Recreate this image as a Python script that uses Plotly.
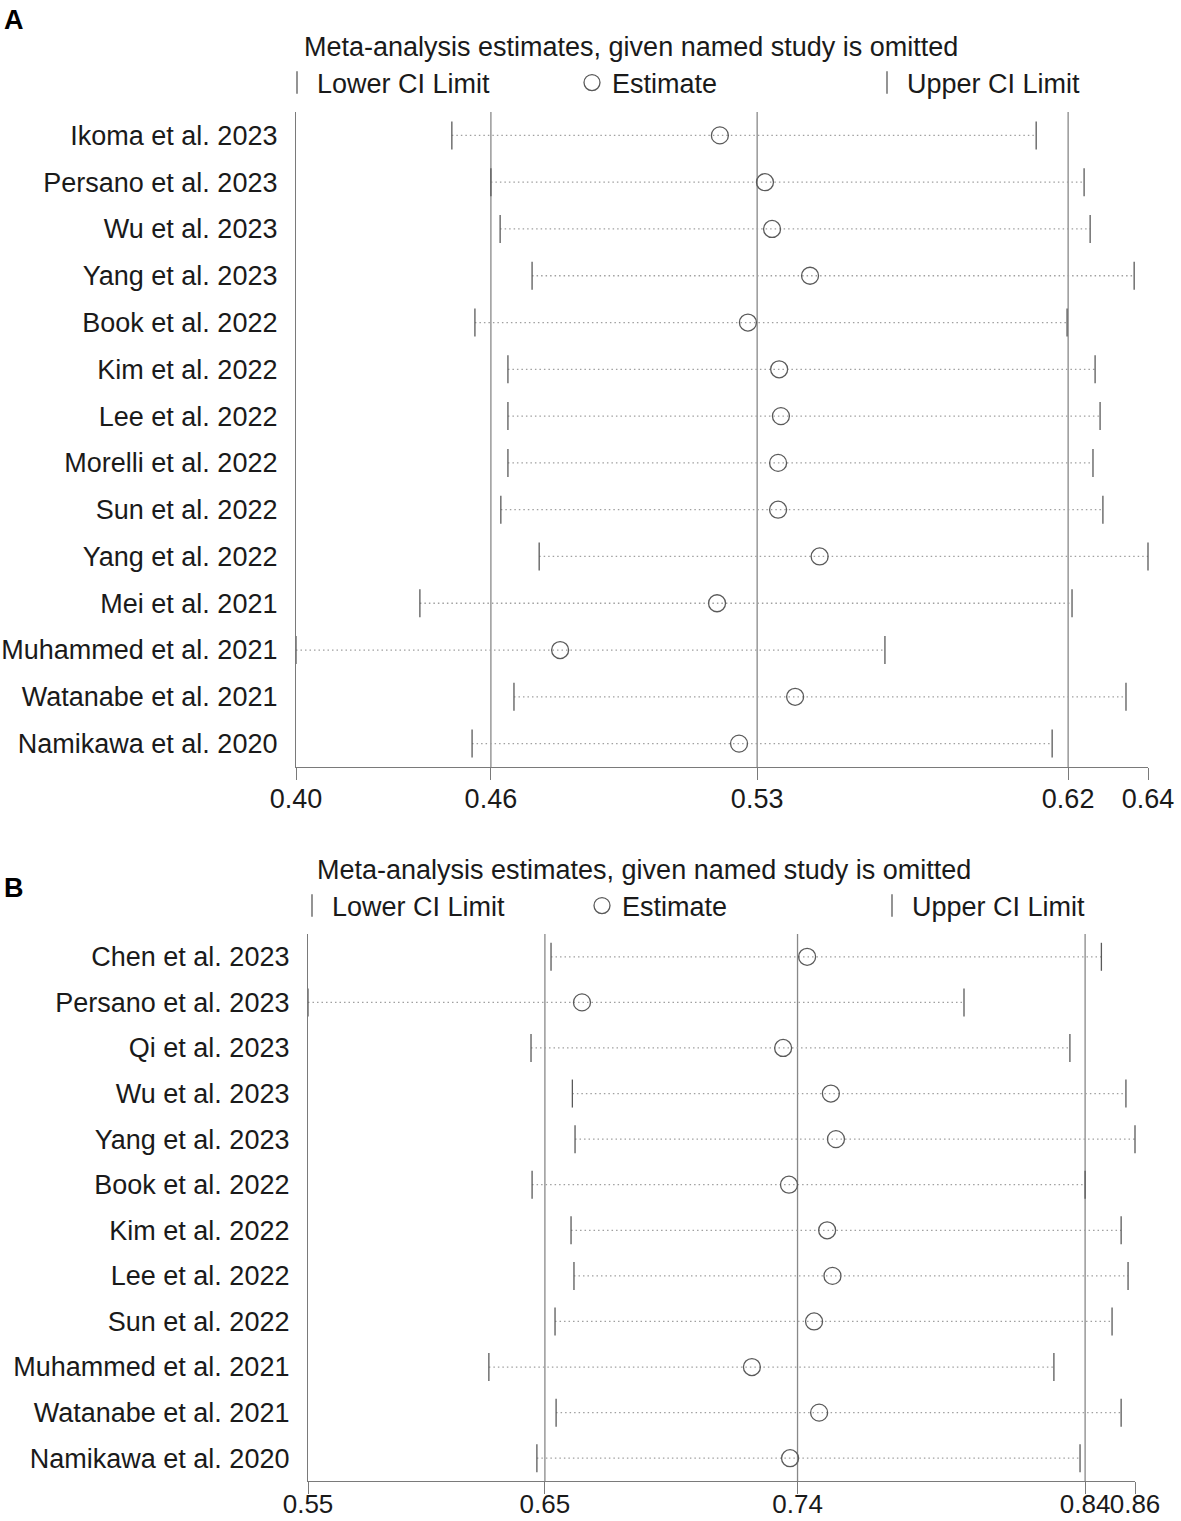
"""Leave-one-out sensitivity analysis (metaninf style) - two panels."""

import plotly.graph_objects as go

# ---- Panel A ----
studies_a = [
    "Ikoma et al. 2023", "Persano et al. 2023", "Wu et al. 2023", "Yang et al. 2023",
    "Book et al. 2022", "Kim et al. 2022", "Lee et al. 2022", "Morelli et al. 2022",
    "Sun et al. 2022", "Yang et al. 2022", "Mei et al. 2021", "Muhammed et al. 2021",
    "Watanabe et al. 2021", "Namikawa et al. 2020",
]
lower_a = [0.4439, 0.4549, 0.4575, 0.4665, 0.4504, 0.4597, 0.4597, 0.4597,
           0.4577, 0.4685, 0.4349, 0.4000, 0.4614, 0.4496]
estimate_a = [0.5194, 0.5321, 0.5341, 0.5448, 0.5273, 0.5361, 0.5366, 0.5358,
              0.5358, 0.5475, 0.5186, 0.4744, 0.5406, 0.5248]
upper_a = [0.6085, 0.6220, 0.6237, 0.6361, 0.6172, 0.6251, 0.6265, 0.6245,
           0.6273, 0.6400, 0.6186, 0.5659, 0.6338, 0.6130]
# pooled estimate with all studies: lower CI, estimate, upper CI
overall_a = [0.4549, 0.5299, 0.6175]
ticktext_a = ["0.40", "0.46", "0.53", "0.62", "0.64"]

# ---- Panel B ----
studies_b = [
    "Chen et al. 2023", "Persano et al. 2023", "Qi et al. 2023", "Wu et al. 2023",
    "Yang et al. 2023", "Book et al. 2022", "Kim et al. 2022", "Lee et al. 2022",
    "Sun et al. 2022", "Muhammed et al. 2021", "Watanabe et al. 2021",
    "Namikawa et al. 2020",
]
lower_b = [0.6411, 0.5500, 0.6336, 0.6491, 0.6501, 0.6340, 0.6486, 0.6497,
           0.6426, 0.6178, 0.6430, 0.6358]
estimate_b = [0.7371, 0.6527, 0.7281, 0.7460, 0.7479, 0.7303, 0.7446, 0.7466,
              0.7397, 0.7164, 0.7416, 0.7307]
upper_b = [0.8474, 0.7959, 0.8356, 0.8566, 0.8600, 0.8413, 0.8548, 0.8574,
           0.8514, 0.8296, 0.8548, 0.8394]
overall_b = [0.6388, 0.7335, 0.8413]
ticktext_b = ["0.55", "0.65", "0.74", "0.84", "0.86"]

TITLE = "Meta-analysis estimates, given named study is omitted"
FONT = "Liberation Sans, Arial, sans-serif"
W, H = 1181, 1521
FS = 27
GRAY = "#5a5a5a"
AXIS = "#7a7a7a"
TEXT = "#1a1a1a"


def px(v, total):
    return v / total


fig = go.Figure()


def add_panel(names, lower, est, upper, overall, ticktext, ax, legend, xdom, ydom, standoff, xfs):
    rows = list(range(1, len(names) + 1))
    xs, ys = [], []
    for lo, hi, r in zip(lower, upper, rows):
        xs += [lo, hi, None]
        ys += [r, r, None]
    common = dict(xaxis='x' + ax, yaxis='y' + ax, legend=legend, cliponaxis=False, hoverinfo='skip')
    fig.add_trace(go.Scatter(x=xs, y=ys, mode='lines', showlegend=False,
                             line=dict(color='#a0a0a0', width=1.3, dash='1.5px,3px'), **common))
    fig.add_trace(go.Scatter(x=lower, y=rows, mode='markers', name='Lower CI Limit',
                             marker=dict(symbol='line-ns', size=20, color=GRAY, line=dict(color=GRAY, width=1.3)), **common))
    fig.add_trace(go.Scatter(x=est, y=rows, mode='markers', name='Estimate',
                             marker=dict(symbol='circle-open', size=17, color=GRAY, line=dict(color=GRAY, width=1.3)), **common))
    fig.add_trace(go.Scatter(x=upper, y=rows, mode='markers', name='Upper CI Limit',
                             marker=dict(symbol='line-ns', size=20, color=GRAY, line=dict(color=GRAY, width=1.3)), **common))

    for v in overall:
        fig.add_shape(type='line', xref='x' + ax, yref=('y' + ax) + ' domain', x0=v, x1=v, y0=0, y1=1,
                      line=dict(color='#888888', width=1.3), layer='below')

    xmin, xmax = min(lower), max(upper)
    fig.update_layout({
        'xaxis' + ax: dict(domain=xdom, anchor='y' + ax, range=[xmin, xmax],
                           tickvals=[xmin] + overall + [xmax], ticktext=ticktext,
                           ticks='outside', ticklen=12, tickwidth=1.3, tickcolor=AXIS,
                           tickangle=0, ticklabelstandoff=standoff, automargin=False,
                           showline=True, linecolor=AXIS, linewidth=1.3,
                           showgrid=False, zeroline=False,
                           tickfont=dict(size=xfs, color=TEXT)),
        'yaxis' + ax: dict(domain=ydom, anchor='x' + ax, range=[len(names) + 0.5, 0.5],
                           tickvals=rows, ticktext=names, ticks='', ticklabelstandoff=12,
                           automargin=False,
                           showline=True, linecolor=AXIS, linewidth=1.3,
                           showgrid=False, zeroline=False,
                           tickfont=dict(size=FS, color=TEXT)),
    })


add_panel(studies_a, lower_a, estimate_a, upper_a, overall_a, ticktext_a, '', 'legend',
          [px(296, W), px(1148, W)], [1 - px(767, H), 1 - px(112, H)], -5, FS)
add_panel(studies_b, lower_b, estimate_b, upper_b, overall_b, ticktext_b, '2', 'legend2',
          [px(308, W), px(1135, W)], [1 - px(1481, H), 1 - px(934, H)], -12, 26)

legend_common = dict(orientation='h', xanchor='left', yanchor='middle', entrywidthmode='pixels',
                     font=dict(size=FS, color=TEXT), bgcolor='rgba(0,0,0,0)',
                     itemclick=False, itemdoubleclick=False, traceorder='normal')


def label(text, x, y, size=FS, bold=False):
    return dict(text=f'<b>{text}</b>' if bold else text, x=px(x, W), y=1 - px(y, H),
                xref='paper', yref='paper', xanchor='left', yanchor='middle',
                showarrow=False, font=dict(size=size, color='black' if bold else TEXT))


fig.update_layout(
    width=W, height=H,
    margin=dict(l=0, r=0, t=0, b=0, autoexpand=False),
    paper_bgcolor='white', plot_bgcolor='white',
    font=dict(family=FONT, size=FS, color=TEXT),
    legend=dict(x=px(277, W), y=1 - px(83, H), entrywidth=250, **legend_common),
    legend2=dict(x=px(292, W), y=1 - px(906, H), entrywidth=245, **legend_common),
    annotations=[
        label('A', 2, 20, size=27, bold=True),
        label('B', 2, 888, size=27, bold=True),
        label(TITLE, 302, 47),
        label(TITLE, 315, 870),
    ],
)

# the page's default body margin would shift the fixed-size figure off the window
fig.write_html("out.html", config={'displayModeBar': False},
               post_script="document.body.style.margin='0';document.body.style.overflow='hidden';")
